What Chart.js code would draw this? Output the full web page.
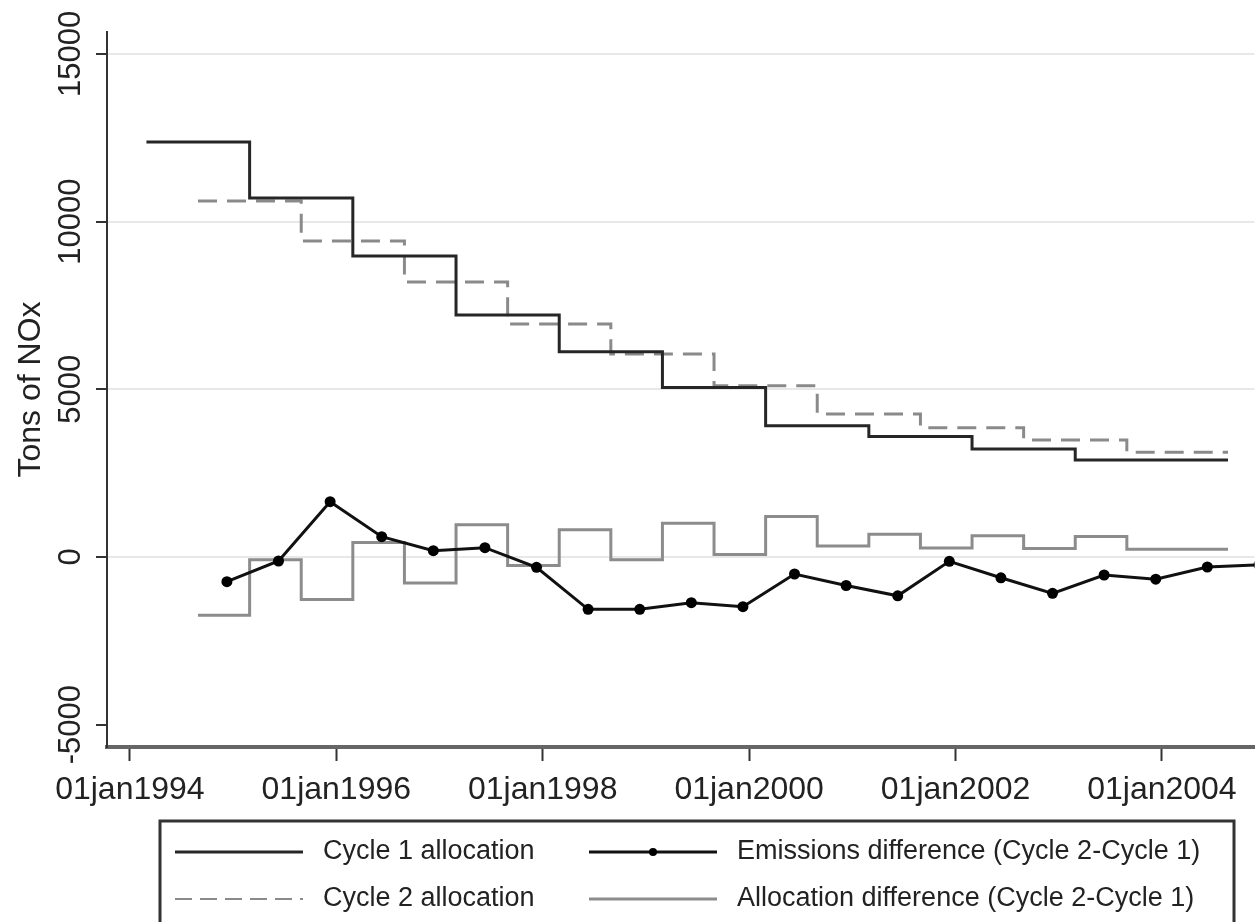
<!DOCTYPE html>
<html lang="en">
  <head>
    <meta charset="UTF-8" />
    <title>Tons of NOx</title>
    <script src="https://cdn.jsdelivr.net/npm/chart.js"></script>
    <style>
      body {
        margin: 0;
        background: #fff;
      }
      #chart {
        display: block;
      }
    </style>
  </head>
  <body>
    <canvas id="chart" width="1260" height="922"></canvas>
    <script>
      // dates as decimal years
      const cycle1Dates = [1994.16, 1995.16, 1996.16, 1997.16, 1998.16, 1999.16, 2000.16, 2001.16, 2002.16, 2003.16, 2004.64];
      const cycle1Values = [12370, 10700, 8975, 7215, 6120, 5050, 3915, 3590, 3220, 2890, 2890];

      const cycle2Dates = [1994.66, 1995.66, 1996.66, 1997.66, 1998.66, 1999.66, 2000.66, 2001.66, 2002.66, 2003.66, 2004.64];
      const cycle2Values = [10615, 9420, 8200, 6950, 6050, 5107, 4264, 3855, 3488, 3122, 3122];

      const emissionsDates = [1994.94, 1995.44, 1995.94, 1996.44, 1996.94, 1997.44, 1997.94, 1998.44, 1998.94, 1999.44, 1999.94,
        2000.44, 2000.94, 2001.44, 2001.94, 2002.44, 2002.94, 2003.44, 2003.94, 2004.44, 2004.94];
      const emissionsValues = [-736, -119, 1650, 606, 189, 278, -308, -1560, -1560, -1362, -1481,
        -507, -850, -1158, -129, -620, -1083, -537, -660, -298, -235];

      const allocDiffDates = [1994.66, 1995.16, 1995.66, 1996.16, 1996.66, 1997.16, 1997.66, 1998.16, 1998.66, 1999.16,
        1999.66, 2000.16, 2000.66, 2001.16, 2001.66, 2002.16, 2002.66, 2003.16, 2003.66, 2004.64];
      const allocDiffValues = [-1740, -80, -1270, 435, -775, 965, -250, 815, -80, 1004,
        75, 1205, 330, 680, 265, 630, 250, 610, 230, 230];

      const xTickValues = [1994, 1996, 1998, 2000, 2002, 2004];
      const xTickLabels = ["01jan1994", "01jan1996", "01jan1998", "01jan2000", "01jan2002", "01jan2004"];
      const yTickValues = [-5000, 0, 5000, 10000, 15000];

      const font = "'Liberation Sans', Arial, sans-serif";

      function pairs(xs, ys) {
        return xs.map((x, i) => ({ x: x, y: ys[i] }));
      }

      // boxed two-column legend under the axis, stata style
      const boxLegend = {
        id: "boxLegend",
        afterDraw(chart) {
          const ctx = chart.ctx;
          const ds = chart.data.datasets;
          ctx.save();
          ctx.strokeStyle = "#333";
          ctx.lineWidth = 3;
          ctx.strokeRect(160, 821, 1074, 140);

          const slots = [
            { d: ds[0], x: 175, y: 852 },
            { d: ds[2], x: 589, y: 852 },
            { d: ds[1], x: 175, y: 899 },
            { d: ds[3], x: 589, y: 899 },
          ];
          slots.forEach((s) => {
            ctx.beginPath();
            ctx.setLineDash(s.d.borderDash ? [17, 8] : []);
            ctx.strokeStyle = s.d.borderColor;
            ctx.lineWidth = s.d.borderDash ? 2 : 3;
            ctx.moveTo(s.x, s.y);
            ctx.lineTo(s.x + 128, s.y);
            ctx.stroke();
            ctx.setLineDash([]);
            if (s.d.pointRadius) {
              ctx.beginPath();
              ctx.fillStyle = s.d.pointBackgroundColor;
              ctx.arc(s.x + 64, s.y, 4, 0, Math.PI * 2);
              ctx.fill();
            }
            ctx.fillStyle = "#222";
            ctx.font = "27px " + font;
            ctx.textBaseline = "middle";
            ctx.textAlign = "left";
            ctx.fillText(s.d.label, s.x + 148, s.y);
          });
          ctx.restore();
        },
      };

      new Chart(document.getElementById("chart"), {
        type: "line",
        data: {
          datasets: [
            {
              label: "Cycle 1 allocation",
              data: pairs(cycle1Dates, cycle1Values),
              stepped: true,
              borderColor: "#262626",
              borderWidth: 3,
              pointRadius: 0,
            },
            {
              label: "Cycle 2 allocation",
              data: pairs(cycle2Dates, cycle2Values),
              stepped: true,
              borderColor: "#8a8a8a",
              borderWidth: 3,
              borderDash: [19, 10],
              pointRadius: 0,
            },
            {
              label: "Emissions difference (Cycle 2-Cycle 1)",
              data: pairs(emissionsDates, emissionsValues),
              borderColor: "#111",
              borderWidth: 3,
              pointRadius: 5.5,
              pointBackgroundColor: "#000",
              pointBorderWidth: 0,
            },
            {
              label: "Allocation difference (Cycle 2-Cycle 1)",
              data: pairs(allocDiffDates, allocDiffValues),
              stepped: true,
              borderColor: "#8c8c8c",
              borderWidth: 3,
              pointRadius: 0,
            },
          ],
        },
        options: {
          responsive: false,
          animation: false,
          layout: { padding: { top: 32, left: 0, right: 0, bottom: 0 } },
          plugins: {
            legend: { display: false },
            tooltip: { enabled: false },
          },
          scales: {
            x: {
              type: "linear",
              min: 1993.778,
              max: 2004.897,
              afterFit: (scale) => {
                scale.height = 175;
              },
              afterBuildTicks: (scale) => {
                scale.ticks = xTickValues.map((v) => ({ value: v }));
              },
              border: { display: true, color: "#666", width: 4 },
              grid: {
                drawOnChartArea: false,
                drawTicks: true,
                tickLength: 14,
                tickColor: "#333",
                tickWidth: 2,
              },
              ticks: {
                autoSkip: false,
                maxRotation: 0,
                padding: 10,
                color: "#222",
                font: { family: font, size: 32 },
                callback: (v, i) => xTickLabels[i],
              },
            },
            y: {
              type: "linear",
              min: -5665,
              max: 15653,
              afterFit: (scale) => {
                scale.width = 107;
              },
              afterBuildTicks: (scale) => {
                scale.ticks = yTickValues.map((v) => ({ value: v }));
              },
              border: { display: true, color: "#333", width: 2 },
              grid: {
                color: (c) => (c.tick && c.tick.value === -5000 ? "rgba(0,0,0,0)" : "#e8e8e8"),
                lineWidth: 2,
                drawTicks: true,
                tickLength: 11,
                tickColor: "#333",
                tickWidth: 2,
              },
              ticks: {
                autoSkip: false,
                minRotation: 90,
                maxRotation: 90,
                crossAlign: "center",
                padding: -19,
                color: "#222",
                font: { family: font, size: 31 },
                callback: (v) => String(v),
              },
              title: {
                display: true,
                text: "Tons of NOx",
                color: "#222",
                padding: { top: 12, bottom: 0 },
                font: { family: font, size: 32 },
              },
            },
          },
        },
        plugins: [boxLegend],
      });
    </script>
  </body>
</html>
